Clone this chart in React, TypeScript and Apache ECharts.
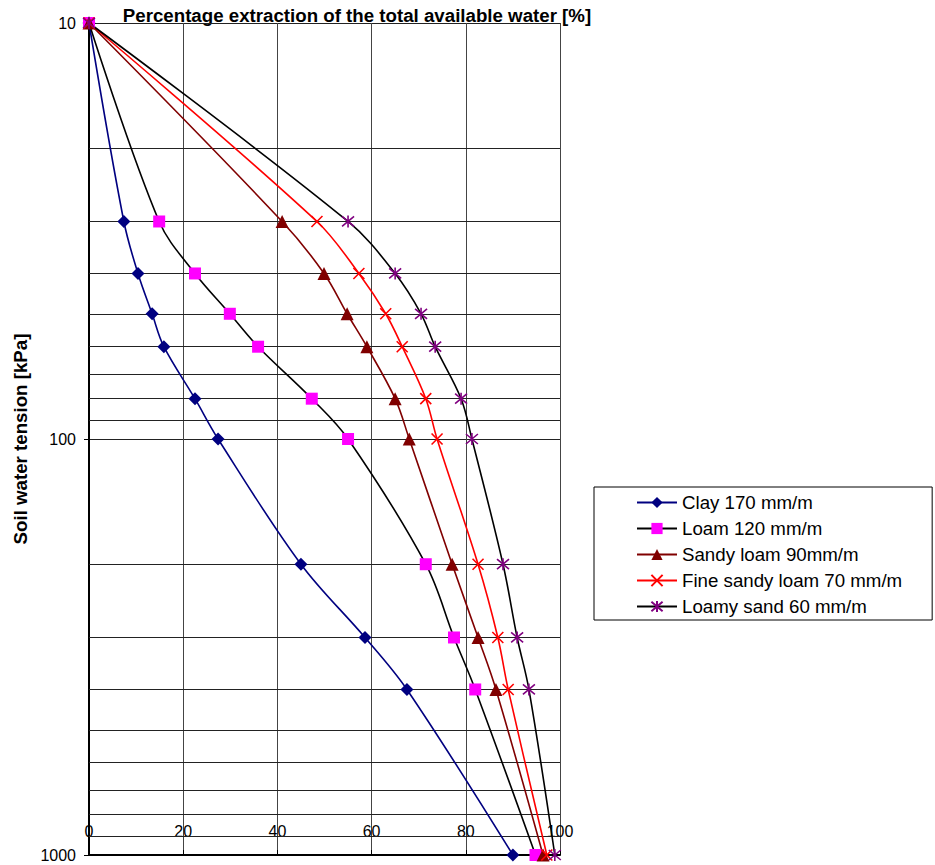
import React, { useEffect, useRef } from "react";
import * as echarts from "echarts";

const tension = [10, 30, 40, 50, 60, 80, 100, 200, 300, 400, 1000];
const clay = [0, 7.4, 10.4, 13.4, 15.9, 22.5, 27.4, 45.0, 58.6, 67.5, 90.0];
const loam = [0, 14.9, 22.5, 29.9, 35.9, 47.3, 55.0, 71.5, 77.5, 82.0, 94.8];
const sandyLoam = [0, 41.0, 49.9, 54.8, 59.0, 65.0, 68.0, 77.1, 82.6, 86.4, 96.4];
const fineSandyLoam = [0, 48.4, 57.3, 63.0, 66.5, 71.5, 73.9, 82.6, 86.8, 89.0, 97.2];
const loamySand = [0, 55.0, 65.0, 70.5, 73.5, 79.0, 81.3, 87.9, 90.9, 93.4, 98.9];
const minorTensionLines = [20, 30, 40, 50, 60, 70, 80, 90, 200, 300, 400, 500, 600, 700, 800, 900];
const seriesNames = [
  "Clay 170 mm/m",
  "Loam 120 mm/m",
  "Sandy loam 90mm/m",
  "Fine sandy loam 70 mm/m",
  "Loamy sand 60 mm/m",
];

const FONT = "'Liberation Sans', Arial, sans-serif";
const X_PATH = "path://M0,0L10,10M10,0L0,10";
const STAR_PATH = "path://M0,0L10,10M10,0L0,10M5,-1L5,11";

function pairs(xs: number[]) {
  return xs.map((x, i) => [x, tension[i]]);
}

export default function App() {
  const ref = useRef<HTMLDivElement>(null);
  useEffect(() => {
    if (!ref.current) return;
    const chart = echarts.init(ref.current, undefined, { renderer: "svg" });
    const mk = (
      name: string,
      data: number[],
      lineColor: string,
      symbol: string,
      symbolSize: number,
      markerColor: string,
      stroked: boolean
    ) => ({
      name,
      type: "line",
      data: pairs(data),
      smooth: 0.35,
      clip: false,
      symbol,
      symbolSize,
      showAllSymbol: true,
      z: 3,
      lineStyle: { color: lineColor, width: 1.6 },
      itemStyle: stroked
        ? { color: "rgba(0,0,0,0)", borderColor: markerColor, borderWidth: 1.6 }
        : { color: markerColor, borderWidth: 0 },
      emphasis: { disabled: true },
    });
    chart.setOption({
      animation: false,
      textStyle: { fontFamily: FONT },
      graphic: [
        {
          type: "text",
          x: 357,
          y: 15,
          style: {
            text: "Percentage extraction of the total available water [%]",
            fontFamily: FONT,
            fontSize: 18.7,
            fontWeight: "bold",
            fill: "#000",
            align: "center",
            verticalAlign: "middle",
          },
        },
      ],
      grid: {
        left: 89,
        right: 375,
        top: 23,
        bottom: 10,
        containLabel: false,
        outerBoundsMode: "none",
      },
      legend: {
        orient: "vertical",
        left: 594,
        top: 487,
        padding: [6, 30, 4, 42],
        itemWidth: 40,
        itemHeight: 14,
        itemGap: 7,
        borderColor: "#000",
        borderWidth: 1,
        textStyle: { fontFamily: FONT, fontSize: 18.7, color: "#000" },
        data: seriesNames,
      },
      xAxis: {
        type: "value",
        min: 0,
        max: 100,
        interval: 20,
        position: "bottom",
        axisLine: { show: true, lineStyle: { color: "#000", width: 2 } },
        axisTick: { show: true, inside: true, length: 5, lineStyle: { color: "#000" } },
        axisLabel: {
          inside: true,
          margin: 16,
          color: "#000",
          fontSize: 16,
          fontFamily: FONT,
        },
        splitLine: { show: true, lineStyle: { color: "#444", width: 1 } },
      },
      yAxis: {
        type: "log",
        logBase: 10,
        min: 10,
        max: 1000,
        inverse: true,
        name: "Soil water tension [kPa]",
        nameLocation: "middle",
        nameGap: 56,
        nameRotate: 90,
        nameTextStyle: { fontFamily: FONT, fontSize: 18.7, fontWeight: "bold", color: "#000" },
        axisLine: { show: true, lineStyle: { color: "#000", width: 2 } },
        axisTick: { show: true, length: 5, lineStyle: { color: "#000" } },
        axisLabel: {
          color: "#000",
          fontSize: 16,
          fontFamily: FONT,
          margin: 13,
          formatter: (v: number) => String(Math.round(v)),
        },
        splitLine: { show: true, lineStyle: { color: "#222", width: 1 } },
        minorTick: { show: false },
        minorSplitLine: { show: false },
      },
      series: [
        {
          name: "grid-minor",
          type: "line",
          data: [],
          z: 1,
          silent: true,
          markLine: {
            silent: true,
            z: 1,
            symbol: ["none", "none"],
            label: { show: false },
            lineStyle: { color: "#222", width: 1, type: "solid" },
            emphasis: { disabled: true },
            data: minorTensionLines.map((v) => ({ yAxis: v })),
          },
        },
        mk(seriesNames[0], clay, "#000080", "diamond", 13, "#000080", false),
        mk(seriesNames[1], loam, "#000000", "rect", 12, "#FF00FF", false),
        mk(seriesNames[2], sandyLoam, "#800000", "triangle", 13, "#800000", false),
        mk(seriesNames[3], fineSandyLoam, "#FF0000", X_PATH, 11, "#FF0000", true),
        mk(seriesNames[4], loamySand, "#000000", STAR_PATH, 12, "#800080", true),
      ],
    });
    return () => chart.dispose();
  }, []);
  return (
    <div
      ref={ref}
      style={{ position: "fixed", left: 0, top: 0, width: 935, height: 865, background: "#fff" }}
    />
  );
}
